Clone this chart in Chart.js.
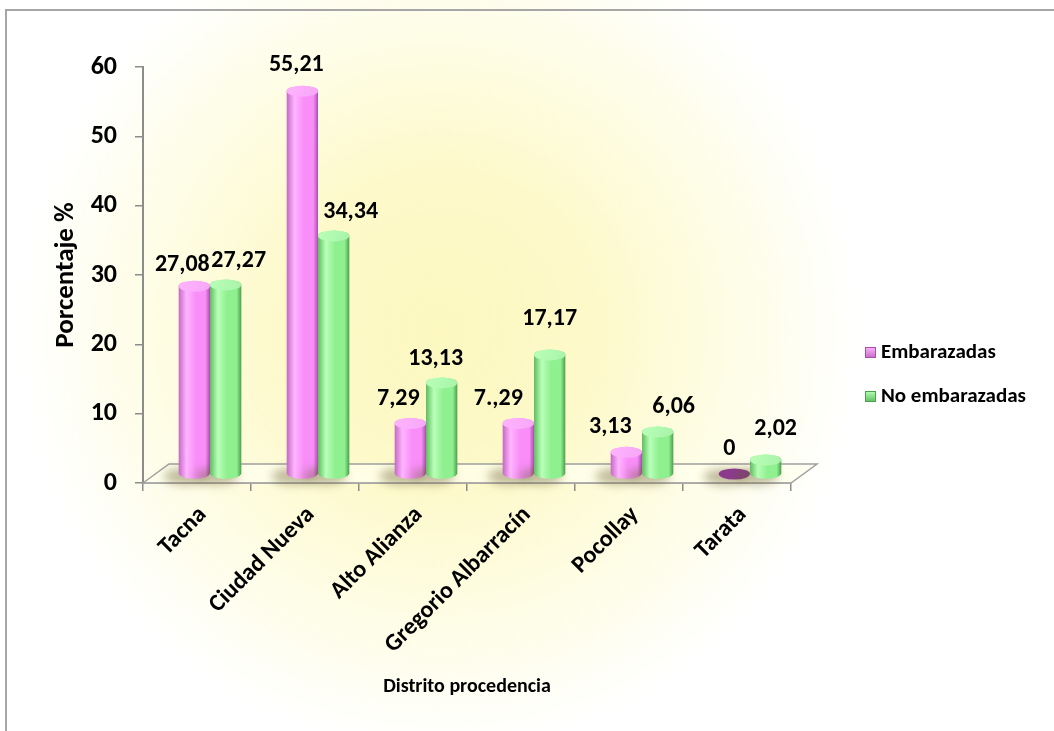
<!DOCTYPE html>
<html>
<head>
<meta charset="utf-8">
<script src="https://cdn.jsdelivr.net/npm/chart.js@4.4.0/dist/chart.umd.min.js"></script>
<style>
  html, body { margin: 0; padding: 0; background: #ffffff; }
  #wrap { width: 1054px; height: 731px; position: relative; }
  canvas { display: block; }
</style>
</head>
<body>
<div id="wrap"><canvas id="chart" width="1054" height="731"></canvas></div>
<script>
// Distrito de procedencia: porcentaje de embarazadas / no embarazadas
const categories = ['Tacna', 'Ciudad Nueva', 'Alto Alianza', 'Gregorio Albarracín', 'Pocollay', 'Tarata'];
const embarazadas = [27.08, 55.21, 7.29, 7.29, 3.13, 0];
const noEmbarazadas = [27.27, 34.34, 13.13, 17.17, 6.06, 2.02];
const embarazadasLabels = ['27,08', '55,21', '7,29', '7.,29', '3,13', '0'];
const noEmbarazadasLabels = ['27,27', '34,34', '13,13', '17,17', '6,06', '2,02'];
const yMin = 0, yMax = 60, yStep = 10;

// hand-placed nudges of the value labels [dx, dy]
const embarazadasLabelShift = [[-12, 3], [-6, -2], [-12, 0], [-20, 0], [-16, -1], [-5, -1]];
const noEmbarazadasLabelShift = [[13, 0], [17, 0], [-6, 0], [0, -12], [16, -1], [10, -7]];

const FONT = "'Carlito', 'Lato', 'Liberation Sans', sans-serif";
const DEPTH_X = 26, DEPTH_Y = -19;      // floor depth
const BAR_DX = 13, BAR_DY = -9;         // bars stand in the middle of the floor

const palettes = [
  { edge: '#c568c5', light: '#ffb4ff', mid: '#f98ef9', dark: '#a94fa9', top: '#f6a6f6', flat: '#8c3b8c' },
  { edge: '#5fbd5f', light: '#b8ffb8', mid: '#8ff08f', dark: '#4c9f4c', top: '#a9f3a9', flat: '#3f8f3f' }
];

function cylinder(ctx, cx, w, yTop, yBase, pal) {
  const rx = w / 2, ry = 5.5;
  const left = cx - rx, right = cx + rx;
  // soft shadow on the floor
  ctx.save();
  ctx.filter = 'blur(5px)';
  ctx.fillStyle = 'rgba(100,90,40,0.4)';
  ctx.beginPath();
  ctx.ellipse(cx - 9, yBase + 3, rx + 6, ry + 3, 0, 0, Math.PI * 2);
  ctx.fill();
  ctx.restore();

  if (yBase - yTop < 1) {
    ctx.fillStyle = pal.flat;
    ctx.beginPath();
    ctx.ellipse(cx, yBase, rx, ry, 0, 0, Math.PI * 2);
    ctx.fill();
    return;
  }
  const g = ctx.createLinearGradient(left, 0, right, 0);
  g.addColorStop(0, pal.edge);
  g.addColorStop(0.25, pal.light);
  g.addColorStop(0.55, pal.mid);
  g.addColorStop(0.85, pal.mid);
  g.addColorStop(1, pal.dark);
  ctx.fillStyle = g;
  ctx.beginPath();
  ctx.moveTo(left, yTop);
  ctx.lineTo(left, yBase);
  ctx.ellipse(cx, yBase, rx, ry, 0, Math.PI, 0, true);
  ctx.lineTo(right, yTop);
  ctx.ellipse(cx, yTop, rx, ry, 0, 0, Math.PI, true);
  ctx.closePath();
  ctx.fill();

  const tg = ctx.createLinearGradient(left, yTop - ry, right, yTop + ry);
  tg.addColorStop(0, pal.light);
  tg.addColorStop(1, pal.top);
  ctx.fillStyle = tg;
  ctx.beginPath();
  ctx.ellipse(cx, yTop, rx, ry, 0, 0, Math.PI * 2);
  ctx.fill();
}

const scenePlugin = {
  id: 'scene',
  beforeDraw(chart) {
    const ctx = chart.ctx;
    const W = chart.width, H = chart.height;
    ctx.save();
    ctx.fillStyle = '#ffffff';
    ctx.fillRect(0, 0, W, H);
    const rg = ctx.createRadialGradient(440, 330, 0, 440, 330, 420);
    rg.addColorStop(0, '#fcf8c0');
    rg.addColorStop(0.35, '#fdf9c9');
    rg.addColorStop(0.7, '#fefde6');
    rg.addColorStop(1, 'rgba(255,255,255,1)');
    ctx.fillStyle = rg;
    ctx.fillRect(0, 0, W, H);
    // chart frame
    ctx.strokeStyle = '#a6a6a6';
    ctx.lineWidth = 2;
    ctx.beginPath();
    ctx.moveTo(6, H);
    ctx.lineTo(6, 10);
    ctx.lineTo(W, 10);
    ctx.stroke();
    ctx.restore();
  },
  beforeDatasetsDraw(chart) {
    const ctx = chart.ctx;
    const a = chart.chartArea;
    const y0 = chart.scales.y.getPixelForValue(0);
    ctx.save();
    ctx.fillStyle = 'rgba(255,255,238,0.75)';
    ctx.strokeStyle = '#a0a0a0';
    ctx.lineWidth = 1.5;
    ctx.beginPath();
    ctx.moveTo(a.left, y0);
    ctx.lineTo(a.left + DEPTH_X, y0 + DEPTH_Y);
    ctx.lineTo(a.right + DEPTH_X, y0 + DEPTH_Y);
    ctx.lineTo(a.right, y0);
    ctx.closePath();
    ctx.fill();
    ctx.stroke();
    ctx.restore();
  },
  afterDatasetsDraw(chart) {
    const ctx = chart.ctx;
    const texts = [embarazadasLabels, noEmbarazadasLabels];
    const shifts = [embarazadasLabelShift, noEmbarazadasLabelShift];
    ctx.save();
    chart.data.datasets.forEach((ds, di) => {
      const meta = chart.getDatasetMeta(di);
      meta.data.forEach((el) => {
        cylinder(ctx, el.x + BAR_DX, el.width, el.y + BAR_DY, el.base + BAR_DY, palettes[di]);
      });
    });
    chart.data.datasets.forEach((ds, di) => {
      const meta = chart.getDatasetMeta(di);
      meta.data.forEach((el, i) => {
        const s = shifts[di][i];
        ctx.fillStyle = '#000000';
        ctx.font = "bold 24px " + FONT;
        ctx.textAlign = 'center';
        ctx.textBaseline = 'middle';
        ctx.fillText(texts[di][i], el.x + BAR_DX + s[0], el.y + BAR_DY - 24 + s[1]);
      });
    });
    ctx.restore();
  },
  afterDraw(chart) {
    // legend
    const ctx = chart.ctx;
    const rows = [352, 396];
    ctx.save();
    chart.data.datasets.forEach((ds, i) => {
      const y = rows[i];
      const pal = palettes[i];
      const g = ctx.createLinearGradient(0, y - 5, 0, y + 6);
      g.addColorStop(0, pal.light);
      g.addColorStop(1, pal.edge);
      ctx.fillStyle = g;
      ctx.fillRect(865, y - 5, 11, 11);
      ctx.strokeStyle = pal.dark;
      ctx.lineWidth = 1;
      ctx.strokeRect(865.5, y - 4.5, 10, 10);
      ctx.fillStyle = '#000000';
      ctx.font = "bold 21px " + FONT;
      ctx.textAlign = 'left';
      ctx.textBaseline = 'middle';
      ctx.fillText(ds.label, 881, y + 1);
    });
    ctx.restore();
  }
};

new Chart(document.getElementById('chart'), {
  type: 'bar',
  data: {
    labels: categories,
    datasets: [
      { label: 'Embarazadas', data: embarazadas, backgroundColor: 'rgba(0,0,0,0)', borderWidth: 0 },
      { label: 'No embarazadas', data: noEmbarazadas, backgroundColor: 'rgba(0,0,0,0)', borderWidth: 0 }
    ]
  },
  options: {
    responsive: false,
    animation: false,
    devicePixelRatio: 1,
    categoryPercentage: 0.58,
    barPercentage: 1.0,
    layout: { padding: { left: 10, top: 67, right: 263, bottom: 30 } },
    plugins: {
      legend: { display: false },
      tooltip: { enabled: false }
    },
    scales: {
      y: {
        min: yMin, max: yMax,
        afterFit(scale) { scale.width = 133; },
        ticks: {
          stepSize: yStep,
          padding: 18,
          color: '#000000',
          font: { family: FONT, size: 26, weight: 'bold' }
        },
        grid: { display: true, drawOnChartArea: false, drawTicks: true, tickLength: 8, color: '#8c8c8c', lineWidth: 1.5 },
        border: { display: true, color: '#8c8c8c', width: 2 },
        title: {
          display: true, text: 'Porcentaje %', color: '#000000',
          padding: { top: 40, bottom: 0 },
          font: { family: FONT, size: 27, weight: 'bold' }
        }
      },
      x: {
        afterFit(scale) { scale.height = 218; },
        ticks: {
          autoSkip: false, maxRotation: 45, minRotation: 45, padding: 10, labelOffset: 6,
          color: '#000000',
          font: { family: FONT, size: 24, weight: 'bold' }
        },
        grid: { display: true, offset: true, drawOnChartArea: false, drawTicks: true, tickLength: 8, color: '#8c8c8c', lineWidth: 1.5 },
        border: { display: true, color: '#8c8c8c', width: 1.5 },
        title: {
          display: true, text: 'Distrito procedencia', color: '#000000',
          padding: { top: 0, bottom: 2 },
          font: { family: FONT, size: 20, weight: 'bold' }
        }
      }
    }
  },
  plugins: [scenePlugin]
});
</script>
</body>
</html>
